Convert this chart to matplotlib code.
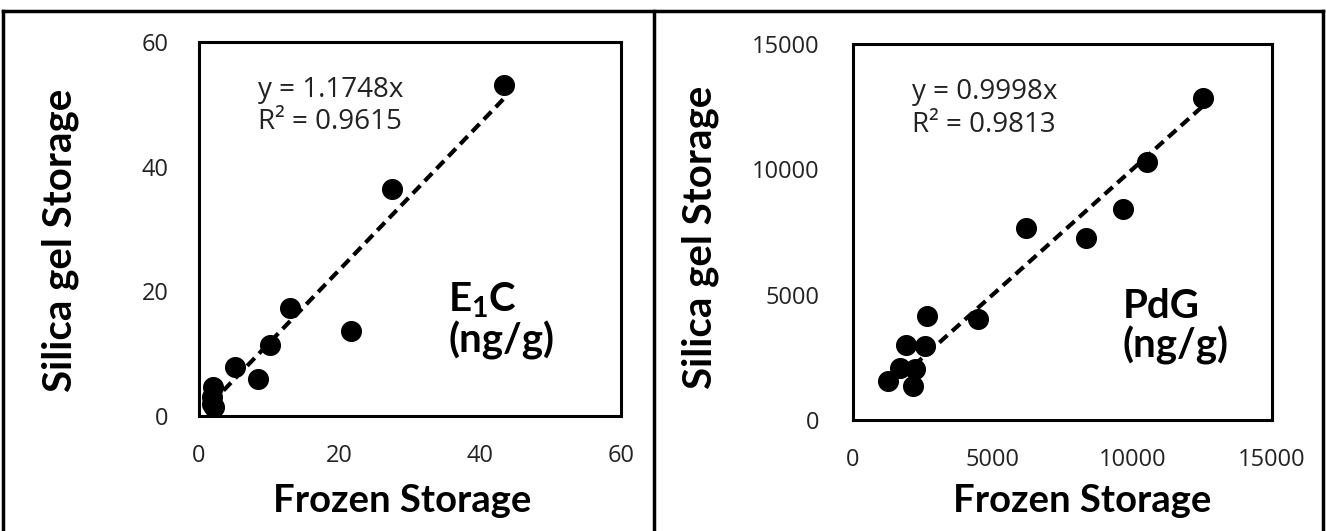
import matplotlib
matplotlib.use("Agg")
import matplotlib.pyplot as plt
from matplotlib.lines import Line2D
import numpy as np

plt.rcParams['font.family'] = ['Open Sans', 'DejaVu Sans']
plt.rcParams['mathtext.fontset'] = 'custom'
plt.rcParams['mathtext.bf'] = 'Lato:bold'
plt.rcParams['mathtext.rm'] = 'Lato'

# E1C (ng/g): frozen vs silica gel storage
e1c_frozen = [43.3, 27.5, 12.9, 21.6, 10.1, 5.1, 8.4, 2.0, 1.9, 2.2, 1.8]
e1c_silica = [53.1, 36.4, 17.3, 13.7, 11.4, 7.9, 6.0, 4.7, 2.0, 1.5, 3.0]
e1c_slope = 1.1748
e1c_r2 = "0.9615"

# PdG (ng/g): frozen vs silica gel storage
pdg_frozen = [12520, 10540, 9660, 6190, 8340, 4460, 2660, 1890, 2580, 1680, 2220, 1270, 2160]
pdg_silica = [12830, 10290, 8400, 7670, 7270, 4030, 4130, 3000, 2960, 2090, 2030, 1560, 1360]
pdg_slope = 0.9998
pdg_r2 = "0.9813"

W, H = 1326, 531
fig = plt.figure(figsize=(W / 100, H / 100), dpi=100)
bold = dict(family=['Lato', 'DejaVu Sans'], fontweight='bold', color='black')


def panel(rect, xs, ys, slope, r2, lim, ticks, ypad):
    ax = fig.add_axes(rect)
    ax.scatter(xs, ys, s=200, color='black', zorder=3, clip_on=False)
    fx = np.array([min(xs), max(xs)])
    ax.plot(fx, slope * fx, color='black', lw=3, ls=(0, (2.6, 1.5)), zorder=2)
    ax.set_xlim(0, lim)
    ax.set_ylim(0, lim)
    ax.set_xticks(ticks)
    ax.set_yticks(ticks)
    ax.tick_params(length=0, labelsize=17, colors='#222222')
    ax.tick_params(axis='x', pad=20)
    ax.tick_params(axis='y', pad=ypad)
    for sp in ax.spines.values():
        sp.set_linewidth(2.2)
    ax.text(0.14, 0.872, f"y = {slope}x", transform=ax.transAxes,
            fontsize=20, va='center', color='#222222')
    ax.text(0.14, 0.785, f"R² = {r2}", transform=ax.transAxes,
            fontsize=20, va='center', color='#222222')
    return ax


ax1 = panel([199 / W, 1 - 416 / H, 422 / W, 374 / H], e1c_frozen, e1c_silica,
            e1c_slope, e1c_r2, 60, [0, 20, 40, 60], 22)
ax2 = panel([853 / W, 1 - 420 / H, 419 / W, 376 / H], pdg_frozen, pdg_silica,
            pdg_slope, pdg_r2, 15000, [0, 5000, 10000, 15000], 24)

# panel names
fig.text(448 / W, 1 - 300 / H, r"$\mathbf{E_1C}$", fontsize=29, va='center', **bold)
fig.text(448 / W, 1 - 340 / H, "(ng/g)", fontsize=29, va='center', **bold)
fig.text(1123 / W, 1 - 306 / H, "PdG", fontsize=29, va='center', **bold)
fig.text(1123 / W, 1 - 345 / H, "(ng/g)", fontsize=29, va='center', **bold)

# axis titles
for cx in (402, 1082):
    fig.text(cx / W, 1 - 512 / H, "Frozen Storage", fontsize=27.5,
             ha='center', va='baseline', **bold)
for cx, cy in ((60, 240), (700, 237)):
    fig.text(cx / W, 1 - cy / H, "Silica gel Storage", fontsize=29,
             rotation=90, ha='center', va='center', **bold)

# outer frames around the two panels
for xs_, ys_ in [([3 / W, 3 / W], [0, 1 - 11 / H]),
                 ([3 / W, 1 - 3 / W], [1 - 11 / H, 1 - 11 / H]),
                 ([654 / W, 654 / W], [0, 1 - 11 / H]),
                 ([1 - 3 / W, 1 - 3 / W], [0, 1 - 11 / H])]:
    fig.add_artist(Line2D(xs_, ys_, color='black', lw=2.5))

plt.savefig('out.png', dpi=100)
